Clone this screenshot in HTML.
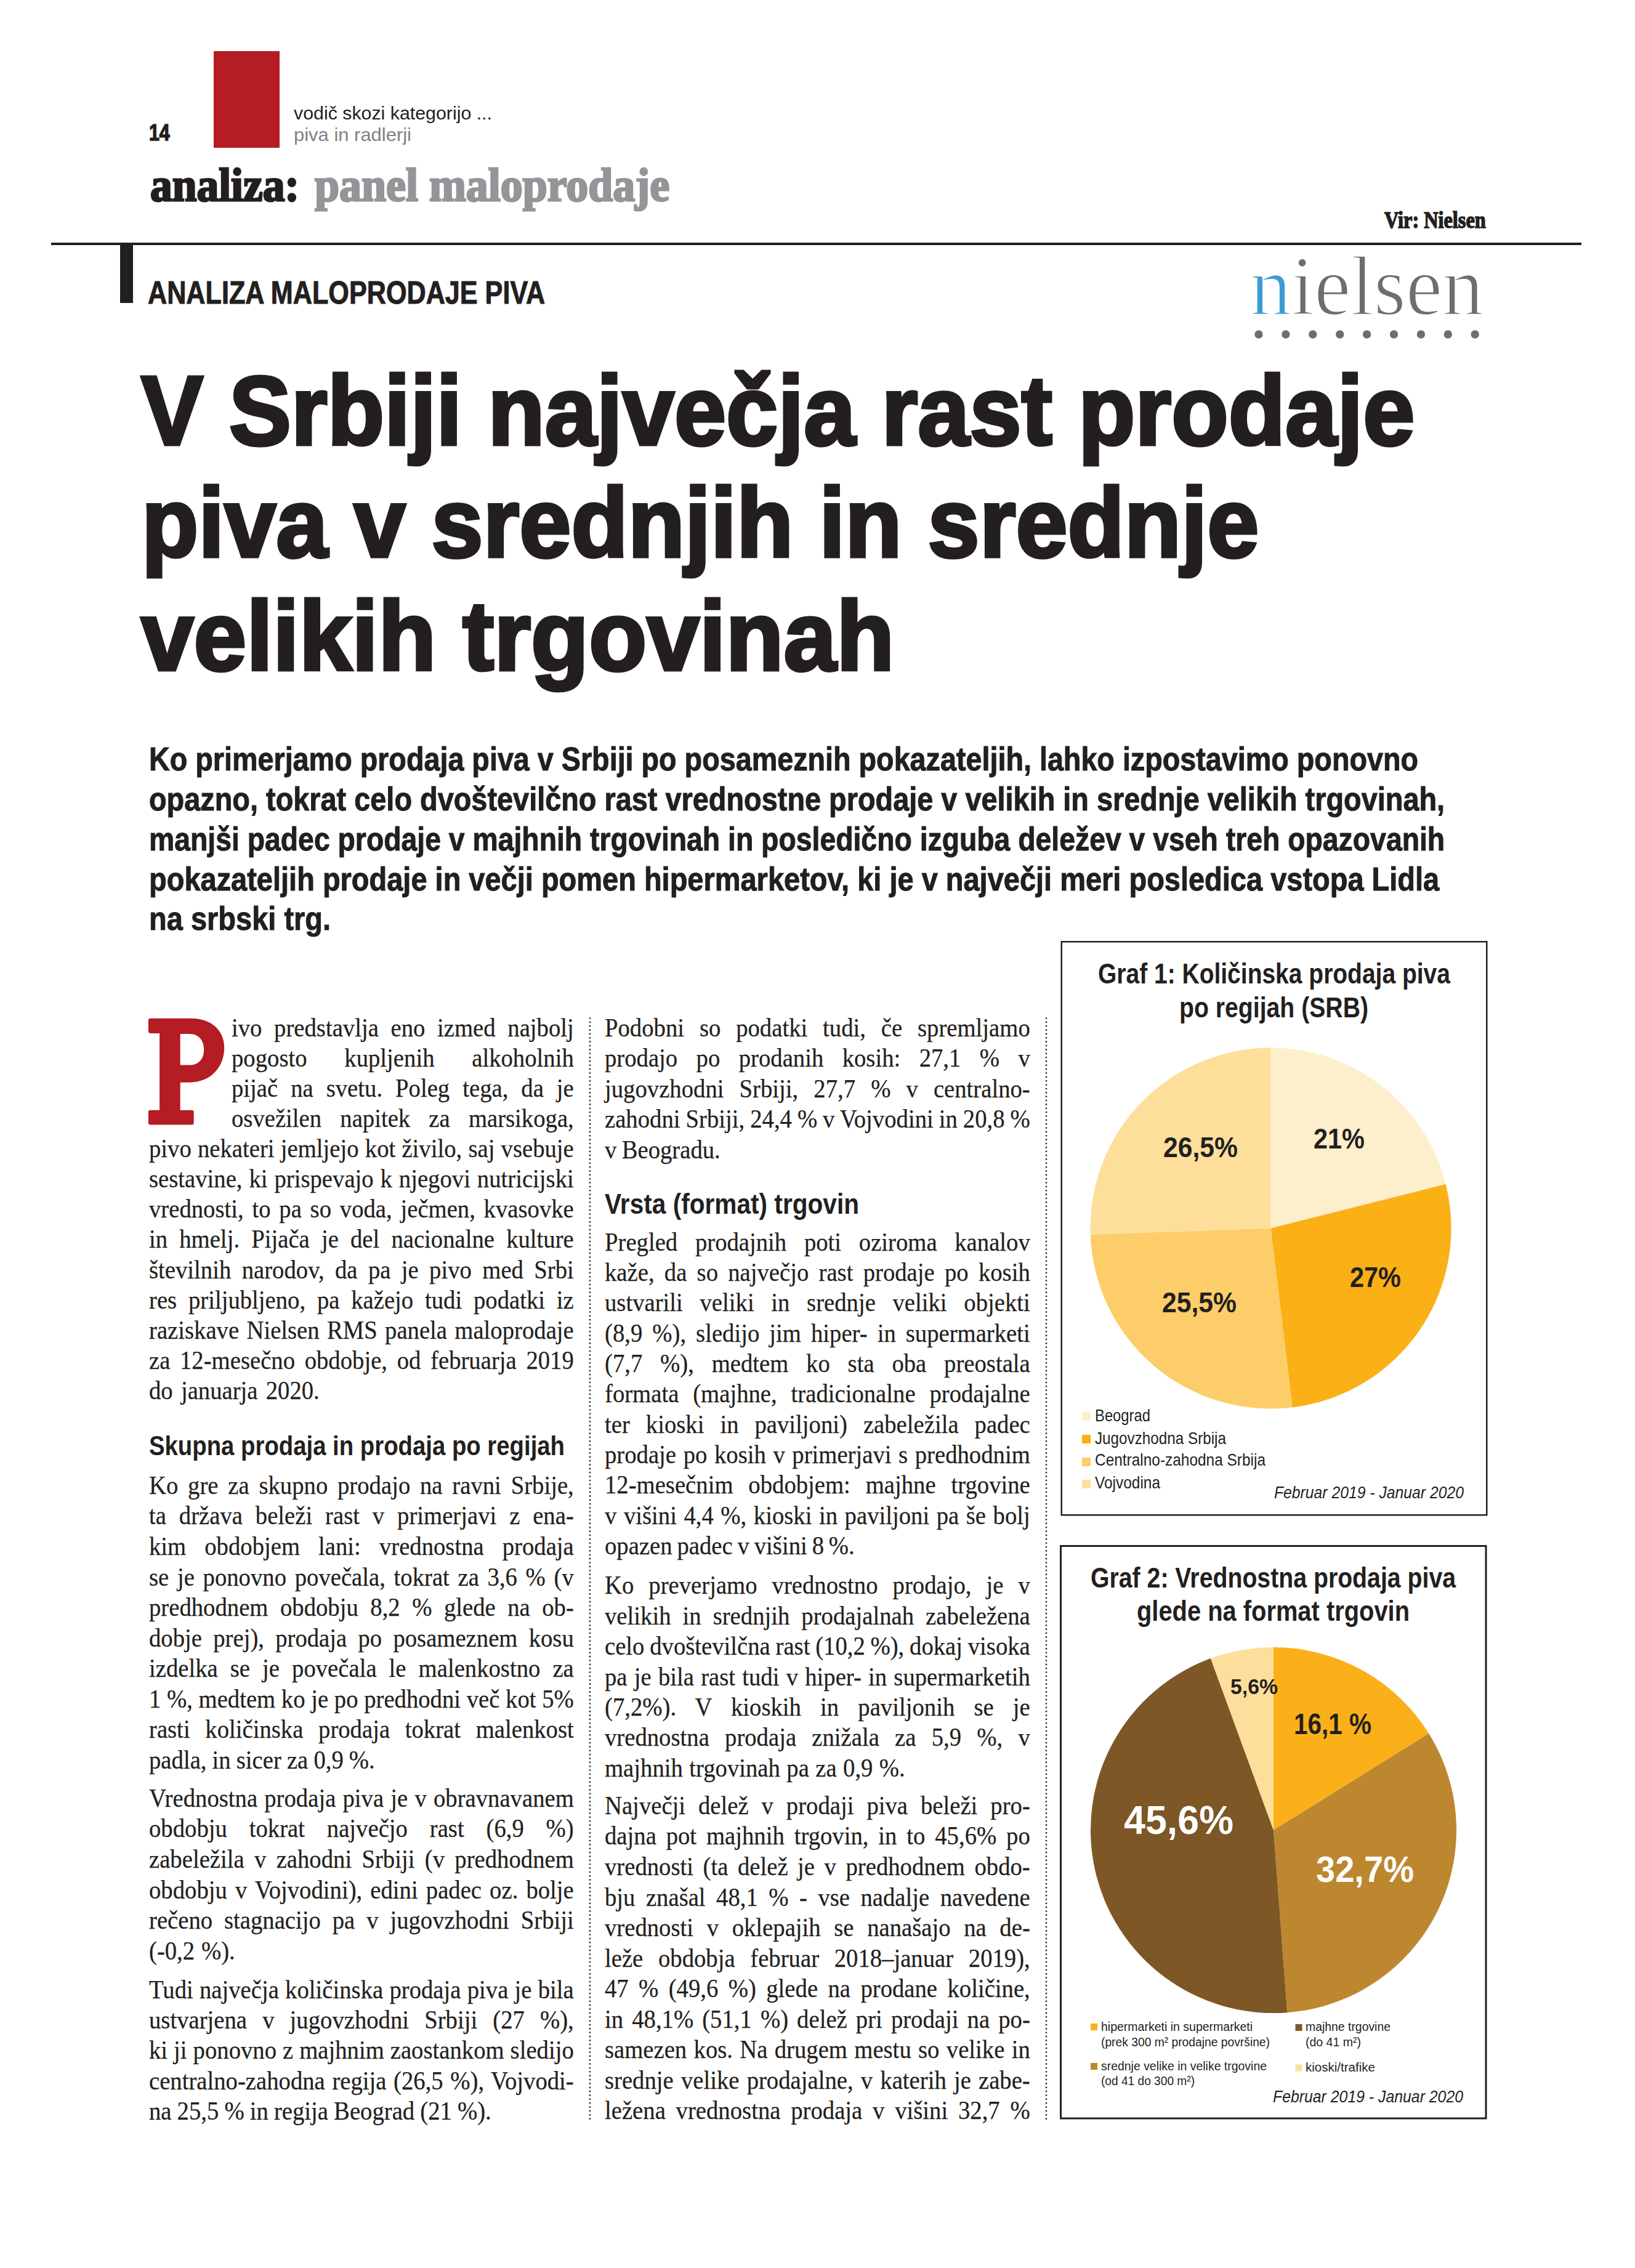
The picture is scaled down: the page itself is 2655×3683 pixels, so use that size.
<!DOCTYPE html>
<html><head><meta charset="utf-8"><style>
html,body{margin:0;padding:0;background:#fff;}
body{width:2655px;height:3683px;position:relative;overflow:hidden;color:#231f20;}
.t{position:absolute;white-space:pre;line-height:0;transform-origin:0 0;}
.r{position:absolute;}
</style></head><body>
<svg class="r" style="left:0;top:0" width="2655" height="3683" viewBox="0 0 2655 3683">
<rect x="347" y="83" width="107" height="157" fill="#b51c24"/>
<rect x="83" y="394" width="2485" height="4" fill="#231f20"/>
<rect x="195" y="396" width="21" height="96" fill="#231f20"/>
<rect x="1723.75" y="1529.25" width="690.5" height="931" fill="none" stroke="#231f20" stroke-width="2.5"/>
<rect x="1722.5" y="2510.5" width="690.5" height="929.5" fill="none" stroke="#231f20" stroke-width="3"/>
<path d="M2063.50 1994.50L2063.50 1701.50A293 293 0 0 1 2347.67 1923.12Z" fill="#fdefcc"/>
<path d="M2063.50 1994.50L2347.67 1923.12A293 293 0 0 1 2098.70 2285.38Z" fill="#fbb016"/>
<path d="M2063.50 1994.50L2098.70 2285.38A293 293 0 0 1 1770.68 2004.73Z" fill="#fdcd69"/>
<path d="M2063.50 1994.50L1770.68 2004.73A293 293 0 0 1 2063.50 1701.50Z" fill="#fddf9b"/>
<path d="M2068.00 2972.00L2068.00 2675.00A297 297 0 0 1 2320.14 2815.05Z" fill="#fbb01a"/>
<path d="M2068.00 2972.00L2320.14 2815.05A297 297 0 0 1 2090.27 3268.16Z" fill="#bd872f"/>
<path d="M2068.00 2972.00L2090.27 3268.16A297 297 0 0 1 1965.93 2693.09Z" fill="#7d5726"/>
<path d="M2068.00 2972.00L1965.93 2693.09A297 297 0 0 1 2068.00 2675.00Z" fill="#fddf9b"/>
<rect x="1757" y="2293" width="14" height="14" fill="#fdefcc"/>
<rect x="1757" y="2330" width="14" height="14" fill="#fbb016"/>
<rect x="1757" y="2367" width="14" height="14" fill="#fdcd69"/>
<rect x="1757" y="2403" width="14" height="14" fill="#fddf9b"/>
<rect x="1771" y="3286" width="11" height="11" fill="#fbb01a"/>
<rect x="2103.5" y="3287" width="11" height="11" fill="#7d5726"/>
<rect x="1771" y="3350" width="11" height="11" fill="#bd872f"/>
<rect x="2103.5" y="3352.5" width="11" height="11" fill="#fddf9b"/>
<circle cx="2044.0" cy="543" r="6.7" fill="#6d6e71"/><circle cx="2087.9" cy="543" r="6.7" fill="#6d6e71"/><circle cx="2131.8" cy="543" r="6.7" fill="#6d6e71"/><circle cx="2175.7" cy="543" r="6.7" fill="#6d6e71"/><circle cx="2219.6" cy="543" r="6.7" fill="#6d6e71"/><circle cx="2263.5" cy="543" r="6.7" fill="#6d6e71"/><circle cx="2307.4" cy="543" r="6.7" fill="#6d6e71"/><circle cx="2351.3" cy="543" r="6.7" fill="#6d6e71"/><circle cx="2395.2" cy="543" r="6.7" fill="#6d6e71"/>
<path fill="#b51c24" fill-rule="evenodd" d="M244.2 1653.7H310.3C342 1653.7 364.2 1672 364.2 1701.6C364.2 1733 342 1757.7 308.1 1757.7H292.7V1802.8H311.4Q314.7 1802.8 314.7 1806.1V1823.2Q314.7 1826.5 311.4 1826.5H244.2Q240.9 1826.5 240.9 1823.2V1806.1Q240.9 1802.8 244.2 1802.8H259.1V1677.9H244.2Q240.9 1677.9 240.9 1674.6V1657Q240.9 1653.7 244.2 1653.7ZM292.7 1679H308C323 1679 331.2 1690 331.2 1704.5C331.2 1719 323 1729.6 308.1 1729.6H292.7Z"/>
<line x1="958" y1="1653.5" x2="958" y2="3442" stroke="#231f20" stroke-width="2.7" stroke-linecap="round" stroke-dasharray="0 6.36"/>
<line x1="1699" y1="1653.5" x2="1699" y2="3442" stroke="#231f20" stroke-width="2.7" stroke-linecap="round" stroke-dasharray="0 6.36"/>
</svg>


<div class="t" style="left:241.6px;top:215.77px;font-family:'Liberation Sans';font-size:36px;font-weight:700;-webkit-text-stroke:1.5px #231f20;transform:scaleX(0.8424);">14</div>
<div class="t" style="left:477.0px;top:184.10px;font-family:'Liberation Sans';font-size:30px;transform:scaleX(1.0110);">vodič skozi kategorijo ...</div>
<div class="t" style="left:477.0px;top:218.60px;font-family:'Liberation Sans';font-size:30px;color:#808285;transform:scaleX(1.0319);">piva in radlerji</div>
<div class="t" style="left:244.4px;top:299.86px;font-family:'Liberation Serif';font-size:76px;font-weight:700;-webkit-text-stroke:3px #231f20;transform:scaleX(0.9403);">analiza:</div>
<div class="t" style="left:511.4px;top:299.86px;font-family:'Liberation Serif';font-size:76px;font-weight:700;color:#939598;-webkit-text-stroke:3px #939598;transform:scaleX(0.9465);">panel maloprodaje</div>
<div class="t" style="left:2247.7px;top:357.77px;font-family:'Liberation Serif';font-size:37px;font-weight:700;-webkit-text-stroke:1.5px #231f20;transform:scaleX(0.8726);">Vir: Nielsen</div>
<div class="t" style="left:240.4px;top:475.47px;font-family:'Liberation Sans';font-size:52px;font-weight:700;-webkit-text-stroke:1px #231f20;transform:scaleX(0.8302);">ANALIZA MALOPRODAJE PIVA</div>
<div class="t" style="left:229.4px;top:667.03px;font-family:'Liberation Sans';font-size:160px;font-weight:700;-webkit-text-stroke:5px #231f20;transform:scaleX(0.9455);">V Srbiji največja rast prodaje</div>
<div class="t" style="left:230.4px;top:849.03px;font-family:'Liberation Sans';font-size:160px;font-weight:700;-webkit-text-stroke:5px #231f20;transform:scaleX(0.9446);">piva v srednjih in srednje</div>
<div class="t" style="left:229.4px;top:1033.03px;font-family:'Liberation Sans';font-size:160px;font-weight:700;-webkit-text-stroke:5px #231f20;transform:scaleX(0.9621);">velikih trgovinah</div>
<div class="t" style="left:242.4px;top:1231.78px;font-family:'Liberation Sans';font-size:54px;font-weight:700;-webkit-text-stroke:1px #231f20;transform:scaleX(0.8651);">Ko primerjamo prodaja piva v Srbiji po posameznih pokazateljih, lahko izpostavimo ponovno</div>
<div class="t" style="left:242.4px;top:1296.78px;font-family:'Liberation Sans';font-size:54px;font-weight:700;-webkit-text-stroke:1px #231f20;transform:scaleX(0.8678);">opazno, tokrat celo dvoštevilčno rast vrednostne prodaje v velikih in srednje velikih trgovinah,</div>
<div class="t" style="left:242.4px;top:1361.78px;font-family:'Liberation Sans';font-size:54px;font-weight:700;-webkit-text-stroke:1px #231f20;transform:scaleX(0.8583);">manjši padec prodaje v majhnih trgovinah in posledično izguba deležev v vseh treh opazovanih</div>
<div class="t" style="left:242.4px;top:1426.78px;font-family:'Liberation Sans';font-size:54px;font-weight:700;-webkit-text-stroke:1px #231f20;transform:scaleX(0.8698);">pokazateljih prodaje in večji pomen hipermarketov, ki je v največji meri posledica vstopa Lidla</div>
<div class="t" style="left:242.4px;top:1491.28px;font-family:'Liberation Sans';font-size:54px;font-weight:700;-webkit-text-stroke:1px #231f20;transform:scaleX(0.8703);">na srbski trg.</div>
<div class="t" style="left:376.1px;top:1668.87px;font-family:'Liberation Serif';font-size:43px;-webkit-text-stroke:0.25px #231f20;word-spacing:11.09px;transform:scaleX(0.9000);">ivo predstavlja eno izmed najbolj</div>
<div class="t" style="left:376.1px;top:1717.95px;font-family:'Liberation Serif';font-size:43px;-webkit-text-stroke:0.25px #231f20;word-spacing:56.74px;transform:scaleX(0.9000);">pogosto kupljenih alkoholnih</div>
<div class="t" style="left:376.1px;top:1767.03px;font-family:'Liberation Serif';font-size:43px;-webkit-text-stroke:0.25px #231f20;word-spacing:12.57px;transform:scaleX(0.9000);">pijač na svetu. Poleg tega, da je</div>
<div class="t" style="left:376.1px;top:1816.11px;font-family:'Liberation Serif';font-size:43px;-webkit-text-stroke:0.25px #231f20;word-spacing:22.76px;transform:scaleX(0.9000);">osvežilen napitek za marsikoga,</div>
<div class="t" style="left:242.1px;top:1865.19px;font-family:'Liberation Serif';font-size:43px;-webkit-text-stroke:0.25px #231f20;word-spacing:0.56px;transform:scaleX(0.9000);">pivo nekateri jemljejo kot živilo, saj vsebuje</div>
<div class="t" style="left:242.1px;top:1914.27px;font-family:'Liberation Serif';font-size:43px;-webkit-text-stroke:0.25px #231f20;word-spacing:1.37px;transform:scaleX(0.9000);">sestavine, ki prispevajo k njegovi nutricijski</div>
<div class="t" style="left:242.1px;top:1963.35px;font-family:'Liberation Serif';font-size:43px;-webkit-text-stroke:0.25px #231f20;word-spacing:4.54px;transform:scaleX(0.9000);">vrednosti, to pa so voda, ječmen, kvasovke</div>
<div class="t" style="left:242.1px;top:2012.43px;font-family:'Liberation Serif';font-size:43px;-webkit-text-stroke:0.25px #231f20;word-spacing:10.52px;transform:scaleX(0.9000);">in hmelj. Pijača je del nacionalne kulture</div>
<div class="t" style="left:242.1px;top:2061.51px;font-family:'Liberation Serif';font-size:43px;-webkit-text-stroke:0.25px #231f20;word-spacing:8.55px;transform:scaleX(0.9000);">številnih narodov, da pa je pivo med Srbi</div>
<div class="t" style="left:242.1px;top:2110.59px;font-family:'Liberation Serif';font-size:43px;-webkit-text-stroke:0.25px #231f20;word-spacing:10.11px;transform:scaleX(0.9000);">res priljubljeno, pa kažejo tudi podatki iz</div>
<div class="t" style="left:242.1px;top:2159.67px;font-family:'Liberation Serif';font-size:43px;-webkit-text-stroke:0.25px #231f20;word-spacing:2.94px;transform:scaleX(0.9000);">raziskave Nielsen RMS panela maloprodaje</div>
<div class="t" style="left:242.1px;top:2208.75px;font-family:'Liberation Serif';font-size:43px;-webkit-text-stroke:0.25px #231f20;word-spacing:6.66px;transform:scaleX(0.9000);">za 12-mesečno obdobje, od februarja 2019</div>
<div class="t" style="left:242.1px;top:2257.83px;font-family:'Liberation Serif';font-size:43px;-webkit-text-stroke:0.25px #231f20;word-spacing:3.90px;transform:scaleX(0.9000);">do januarja 2020.</div>
<div class="t" style="left:242.1px;top:2411.87px;font-family:'Liberation Serif';font-size:43px;-webkit-text-stroke:0.25px #231f20;word-spacing:6.79px;transform:scaleX(0.9000);">Ko gre za skupno prodajo na ravni Srbije,</div>
<div class="t" style="left:242.1px;top:2461.42px;font-family:'Liberation Serif';font-size:43px;-webkit-text-stroke:0.25px #231f20;word-spacing:12.45px;transform:scaleX(0.9000);">ta država beleži rast v primerjavi z ena-</div>
<div class="t" style="left:242.1px;top:2510.97px;font-family:'Liberation Serif';font-size:43px;-webkit-text-stroke:0.25px #231f20;word-spacing:22.63px;transform:scaleX(0.9000);">kim obdobjem lani: vrednostna prodaja</div>
<div class="t" style="left:242.1px;top:2560.52px;font-family:'Liberation Serif';font-size:43px;-webkit-text-stroke:0.25px #231f20;word-spacing:4.46px;transform:scaleX(0.9000);">se je ponovno povečala, tokrat za 3,6 % (v</div>
<div class="t" style="left:242.1px;top:2610.07px;font-family:'Liberation Serif';font-size:43px;-webkit-text-stroke:0.25px #231f20;word-spacing:10.91px;transform:scaleX(0.9000);">predhodnem obdobju 8,2 % glede na ob-</div>
<div class="t" style="left:242.1px;top:2659.62px;font-family:'Liberation Serif';font-size:43px;-webkit-text-stroke:0.25px #231f20;word-spacing:9.51px;transform:scaleX(0.9000);">dobje prej), prodaja po posameznem kosu</div>
<div class="t" style="left:242.1px;top:2709.17px;font-family:'Liberation Serif';font-size:43px;-webkit-text-stroke:0.25px #231f20;word-spacing:11.53px;transform:scaleX(0.9000);">izdelka se je povečala le malenkostno za</div>
<div class="t" style="left:242.1px;top:2758.72px;font-family:'Liberation Serif';font-size:43px;-webkit-text-stroke:0.25px #231f20;word-spacing:-0.03px;transform:scaleX(0.9000);">1 %, medtem ko je po predhodni več kot 5%</div>
<div class="t" style="left:242.1px;top:2808.27px;font-family:'Liberation Serif';font-size:43px;-webkit-text-stroke:0.25px #231f20;word-spacing:16.66px;transform:scaleX(0.9000);">rasti količinska prodaja tokrat malenkost</div>
<div class="t" style="left:242.1px;top:2857.82px;font-family:'Liberation Serif';font-size:43px;-webkit-text-stroke:0.25px #231f20;word-spacing:-0.64px;transform:scaleX(0.9000);">padla, in sicer za 0,9 %.</div>
<div class="t" style="left:242.1px;top:2919.87px;font-family:'Liberation Serif';font-size:43px;-webkit-text-stroke:0.25px #231f20;word-spacing:1.68px;transform:scaleX(0.9000);">Vrednostna prodaja piva je v obravnavanem</div>
<div class="t" style="left:242.1px;top:2969.47px;font-family:'Liberation Serif';font-size:43px;-webkit-text-stroke:0.25px #231f20;word-spacing:29.09px;transform:scaleX(0.9000);">obdobju tokrat največjo rast (6,9 %)</div>
<div class="t" style="left:242.1px;top:3019.07px;font-family:'Liberation Serif';font-size:43px;-webkit-text-stroke:0.25px #231f20;word-spacing:7.37px;transform:scaleX(0.9000);">zabeležila v zahodni Srbiji (v predhodnem</div>
<div class="t" style="left:242.1px;top:3068.67px;font-family:'Liberation Serif';font-size:43px;-webkit-text-stroke:0.25px #231f20;word-spacing:3.80px;transform:scaleX(0.9000);">obdobju v Vojvodini), edini padec oz. bolje</div>
<div class="t" style="left:242.1px;top:3118.27px;font-family:'Liberation Serif';font-size:43px;-webkit-text-stroke:0.25px #231f20;word-spacing:10.22px;transform:scaleX(0.9000);">rečeno stagnacijo pa v jugovzhodni Srbiji</div>
<div class="t" style="left:242.1px;top:3167.87px;font-family:'Liberation Serif';font-size:43px;-webkit-text-stroke:0.25px #231f20;word-spacing:1.27px;transform:scaleX(0.9000);">(-0,2 %).</div>
<div class="t" style="left:242.1px;top:3230.87px;font-family:'Liberation Serif';font-size:43px;-webkit-text-stroke:0.25px #231f20;word-spacing:0.62px;transform:scaleX(0.9000);">Tudi največja količinska prodaja piva je bila</div>
<div class="t" style="left:242.1px;top:3280.12px;font-family:'Liberation Serif';font-size:43px;-webkit-text-stroke:0.25px #231f20;word-spacing:17.14px;transform:scaleX(0.9000);">ustvarjena v jugovzhodni Srbiji (27 %),</div>
<div class="t" style="left:242.1px;top:3329.37px;font-family:'Liberation Serif';font-size:43px;-webkit-text-stroke:0.25px #231f20;word-spacing:0.35px;transform:scaleX(0.9000);">ki ji ponovno z majhnim zaostankom sledijo</div>
<div class="t" style="left:242.1px;top:3378.62px;font-family:'Liberation Serif';font-size:43px;-webkit-text-stroke:0.25px #231f20;word-spacing:2.14px;transform:scaleX(0.9000);">centralno-zahodna regija (26,5 %), Vojvodi-</div>
<div class="t" style="left:242.1px;top:3427.87px;font-family:'Liberation Serif';font-size:43px;-webkit-text-stroke:0.25px #231f20;word-spacing:-0.66px;transform:scaleX(0.9000);">na 25,5 % in regija Beograd (21 %).</div>
<div class="t" style="left:982.1px;top:1668.87px;font-family:'Liberation Serif';font-size:43px;-webkit-text-stroke:0.25px #231f20;word-spacing:16.87px;transform:scaleX(0.9000);">Podobni so podatki tudi, če spremljamo</div>
<div class="t" style="left:982.1px;top:1718.37px;font-family:'Liberation Serif';font-size:43px;-webkit-text-stroke:0.25px #231f20;word-spacing:23.02px;transform:scaleX(0.9000);">prodajo po prodanih kosih: 27,1 % v</div>
<div class="t" style="left:982.1px;top:1767.87px;font-family:'Liberation Serif';font-size:43px;-webkit-text-stroke:0.25px #231f20;word-spacing:17.12px;transform:scaleX(0.9000);">jugovzhodni Srbiji, 27,7 % v centralno-</div>
<div class="t" style="left:982.1px;top:1817.37px;font-family:'Liberation Serif';font-size:43px;-webkit-text-stroke:0.25px #231f20;word-spacing:-0.76px;transform:scaleX(0.9000);">zahodni Srbiji, 24,4 % v Vojvodini in 20,8 %</div>
<div class="t" style="left:982.1px;top:1866.87px;font-family:'Liberation Serif';font-size:43px;-webkit-text-stroke:0.25px #231f20;word-spacing:-1.53px;transform:scaleX(0.9000);">v Beogradu.</div>
<div class="t" style="left:982.1px;top:2016.87px;font-family:'Liberation Serif';font-size:43px;-webkit-text-stroke:0.25px #231f20;word-spacing:21.12px;transform:scaleX(0.9000);">Pregled prodajnih poti oziroma kanalov</div>
<div class="t" style="left:982.1px;top:2066.17px;font-family:'Liberation Serif';font-size:43px;-webkit-text-stroke:0.25px #231f20;word-spacing:7.30px;transform:scaleX(0.9000);">kaže, da so največjo rast prodaje po kosih</div>
<div class="t" style="left:982.1px;top:2115.47px;font-family:'Liberation Serif';font-size:43px;-webkit-text-stroke:0.25px #231f20;word-spacing:19.99px;transform:scaleX(0.9000);">ustvarili veliki in srednje veliki objekti</div>
<div class="t" style="left:982.1px;top:2164.77px;font-family:'Liberation Serif';font-size:43px;-webkit-text-stroke:0.25px #231f20;word-spacing:7.06px;transform:scaleX(0.9000);">(8,9 %), sledijo jim hiper- in supermarketi</div>
<div class="t" style="left:982.1px;top:2214.07px;font-family:'Liberation Serif';font-size:43px;-webkit-text-stroke:0.25px #231f20;word-spacing:21.25px;transform:scaleX(0.9000);">(7,7 %), medtem ko sta oba preostala</div>
<div class="t" style="left:982.1px;top:2263.37px;font-family:'Liberation Serif';font-size:43px;-webkit-text-stroke:0.25px #231f20;word-spacing:14.67px;transform:scaleX(0.9000);">formata (majhne, tradicionalne prodajalne</div>
<div class="t" style="left:982.1px;top:2312.67px;font-family:'Liberation Serif';font-size:43px;-webkit-text-stroke:0.25px #231f20;word-spacing:18.11px;transform:scaleX(0.9000);">ter kioski in paviljoni) zabeležila padec</div>
<div class="t" style="left:982.1px;top:2361.97px;font-family:'Liberation Serif';font-size:43px;-webkit-text-stroke:0.25px #231f20;word-spacing:2.13px;transform:scaleX(0.9000);">prodaje po kosih v primerjavi s predhodnim</div>
<div class="t" style="left:982.1px;top:2411.27px;font-family:'Liberation Serif';font-size:43px;-webkit-text-stroke:0.25px #231f20;word-spacing:16.87px;transform:scaleX(0.9000);">12-mesečnim obdobjem: majhne trgovine</div>
<div class="t" style="left:982.1px;top:2460.57px;font-family:'Liberation Serif';font-size:43px;-webkit-text-stroke:0.25px #231f20;word-spacing:2.07px;transform:scaleX(0.9000);">v višini 4,4 %, kioski in paviljoni pa še bolj</div>
<div class="t" style="left:982.1px;top:2509.87px;font-family:'Liberation Serif';font-size:43px;-webkit-text-stroke:0.25px #231f20;word-spacing:-2.01px;transform:scaleX(0.9000);">opazen padec v višini 8 %.</div>
<div class="t" style="left:982.1px;top:2574.37px;font-family:'Liberation Serif';font-size:43px;-webkit-text-stroke:0.25px #231f20;word-spacing:15.94px;transform:scaleX(0.9000);">Ko preverjamo vrednostno prodajo, je v</div>
<div class="t" style="left:982.1px;top:2623.77px;font-family:'Liberation Serif';font-size:43px;-webkit-text-stroke:0.25px #231f20;word-spacing:10.40px;transform:scaleX(0.9000);">velikih in srednjih prodajalnah zabeležena</div>
<div class="t" style="left:982.1px;top:2673.17px;font-family:'Liberation Serif';font-size:43px;-webkit-text-stroke:0.25px #231f20;word-spacing:-1.04px;transform:scaleX(0.9000);">celo dvoštevilčna rast (10,2 %), dokaj visoka</div>
<div class="t" style="left:982.1px;top:2722.57px;font-family:'Liberation Serif';font-size:43px;-webkit-text-stroke:0.25px #231f20;word-spacing:1.71px;transform:scaleX(0.9000);">pa je bila rast tudi v hiper- in supermarketih</div>
<div class="t" style="left:982.1px;top:2771.97px;font-family:'Liberation Serif';font-size:43px;-webkit-text-stroke:0.25px #231f20;word-spacing:23.88px;transform:scaleX(0.9000);">(7,2%). V kioskih in paviljonih se je</div>
<div class="t" style="left:982.1px;top:2821.37px;font-family:'Liberation Serif';font-size:43px;-webkit-text-stroke:0.25px #231f20;word-spacing:17.28px;transform:scaleX(0.9000);">vrednostna prodaja znižala za 5,9 %, v</div>
<div class="t" style="left:982.1px;top:2870.77px;font-family:'Liberation Serif';font-size:43px;-webkit-text-stroke:0.25px #231f20;word-spacing:0.84px;transform:scaleX(0.9000);">majhnih trgovinah pa za 0,9 %.</div>
<div class="t" style="left:982.1px;top:2931.87px;font-family:'Liberation Serif';font-size:43px;-webkit-text-stroke:0.25px #231f20;word-spacing:12.51px;transform:scaleX(0.9000);">Največji delež v prodaji piva beleži pro-</div>
<div class="t" style="left:982.1px;top:2981.42px;font-family:'Liberation Serif';font-size:43px;-webkit-text-stroke:0.25px #231f20;word-spacing:6.88px;transform:scaleX(0.9000);">dajna pot majhnih trgovin, in to 45,6% po</div>
<div class="t" style="left:982.1px;top:3030.97px;font-family:'Liberation Serif';font-size:43px;-webkit-text-stroke:0.25px #231f20;word-spacing:6.52px;transform:scaleX(0.9000);">vrednosti (ta delež je v predhodnem obdo-</div>
<div class="t" style="left:982.1px;top:3080.52px;font-family:'Liberation Serif';font-size:43px;-webkit-text-stroke:0.25px #231f20;word-spacing:8.67px;transform:scaleX(0.9000);">bju znašal 48,1 % - vse nadalje navedene</div>
<div class="t" style="left:982.1px;top:3130.07px;font-family:'Liberation Serif';font-size:43px;-webkit-text-stroke:0.25px #231f20;word-spacing:13.29px;transform:scaleX(0.9000);">vrednosti v oklepajih se nanašajo na de-</div>
<div class="t" style="left:982.1px;top:3179.62px;font-family:'Liberation Serif';font-size:43px;-webkit-text-stroke:0.25px #231f20;word-spacing:16.66px;transform:scaleX(0.9000);">leže obdobja februar 2018–januar 2019),</div>
<div class="t" style="left:982.1px;top:3229.17px;font-family:'Liberation Serif';font-size:43px;-webkit-text-stroke:0.25px #231f20;word-spacing:7.47px;transform:scaleX(0.9000);">47 % (49,6 %) glede na prodane količine,</div>
<div class="t" style="left:982.1px;top:3278.72px;font-family:'Liberation Serif';font-size:43px;-webkit-text-stroke:0.25px #231f20;word-spacing:4.89px;transform:scaleX(0.9000);">in 48,1% (51,1 %) delež pri prodaji na po-</div>
<div class="t" style="left:982.1px;top:3328.27px;font-family:'Liberation Serif';font-size:43px;-webkit-text-stroke:0.25px #231f20;word-spacing:1.83px;transform:scaleX(0.9000);">samezen kos. Na drugem mestu so velike in</div>
<div class="t" style="left:982.1px;top:3377.82px;font-family:'Liberation Serif';font-size:43px;-webkit-text-stroke:0.25px #231f20;word-spacing:2.76px;transform:scaleX(0.9000);">srednje velike prodajalne, v katerih je zabe-</div>
<div class="t" style="left:982.1px;top:3427.37px;font-family:'Liberation Serif';font-size:43px;-webkit-text-stroke:0.25px #231f20;word-spacing:7.91px;transform:scaleX(0.9000);">ležena vrednostna prodaja v višini 32,7 %</div>
<div class="t" style="left:242.0px;top:2347.90px;font-family:'Liberation Sans';font-size:45px;font-weight:700;transform:scaleX(0.8516);">Skupna prodaja in prodaja po regijah</div>
<div class="t" style="left:982.0px;top:1955.05px;font-family:'Liberation Sans';font-size:46px;font-weight:700;transform:scaleX(0.8830);">Vrsta (format) trgovin</div>
<div class="t" style="left:1783.0px;top:1581.25px;font-family:'Liberation Sans';font-size:46px;font-weight:700;transform:scaleX(0.8475);">Graf 1: Količinska prodaja piva</div>
<div class="t" style="left:1915.0px;top:1636.25px;font-family:'Liberation Sans';font-size:46px;font-weight:700;transform:scaleX(0.8520);">po regijah (SRB)</div>
<div class="t" style="left:2133.0px;top:1850.43px;font-family:'Liberation Sans';font-size:45.5px;font-weight:700;transform:scaleX(0.9113);">21%</div>
<div class="t" style="left:1889.0px;top:1864.23px;font-family:'Liberation Sans';font-size:45.5px;font-weight:700;transform:scaleX(0.9379);">26,5%</div>
<div class="t" style="left:2192.0px;top:2075.23px;font-family:'Liberation Sans';font-size:45.5px;font-weight:700;transform:scaleX(0.9113);">27%</div>
<div class="t" style="left:1887.0px;top:2116.23px;font-family:'Liberation Sans';font-size:45.5px;font-weight:700;transform:scaleX(0.9379);">25,5%</div>
<div class="t" style="left:1778.0px;top:2299.29px;font-family:'Liberation Sans';font-size:28px;transform:scaleX(0.8501);">Beograd</div>
<div class="t" style="left:1778.0px;top:2336.29px;font-family:'Liberation Sans';font-size:28px;transform:scaleX(0.8660);">Jugovzhodna Srbija</div>
<div class="t" style="left:1778.0px;top:2371.29px;font-family:'Liberation Sans';font-size:28px;transform:scaleX(0.8724);">Centralno-zahodna Srbija</div>
<div class="t" style="left:1778.0px;top:2408.29px;font-family:'Liberation Sans';font-size:28px;transform:scaleX(0.8729);">Vojvodina</div>
<div class="t" style="left:2069.0px;top:2424.29px;font-family:'Liberation Sans';font-size:28px;font-style:italic;transform:scaleX(0.8833);">Februar 2019 - Januar 2020</div>
<div class="t" style="left:1771.0px;top:2562.25px;font-family:'Liberation Sans';font-size:46px;font-weight:700;transform:scaleX(0.8529);">Graf 2: Vrednostna prodaja piva</div>
<div class="t" style="left:1846.0px;top:2616.25px;font-family:'Liberation Sans';font-size:46px;font-weight:700;transform:scaleX(0.8666);">glede na format trgovin</div>
<div class="t" style="left:1998.0px;top:2739.19px;font-family:'Liberation Sans';font-size:35.5px;font-weight:700;transform:scaleX(0.9515);">5,6%</div>
<div class="t" style="left:2101.0px;top:2798.79px;font-family:'Liberation Sans';font-size:48.5px;font-weight:700;transform:scaleX(0.8344);">16,1 %</div>
<div class="t" style="left:1825.0px;top:2955.81px;font-family:'Liberation Sans';font-size:64px;font-weight:700;color:#ffffff;transform:scaleX(0.9809);">45,6%</div>
<div class="t" style="left:2137.0px;top:3036.04px;font-family:'Liberation Sans';font-size:59px;font-weight:700;color:#ffffff;transform:scaleX(0.9504);">32,7%</div>
<div class="t" style="left:1788.0px;top:3291.07px;font-family:'Liberation Sans';font-size:20px;transform:scaleX(0.9749);">hipermarketi in supermarketi</div>
<div class="t" style="left:1788.0px;top:3315.67px;font-family:'Liberation Sans';font-size:20px;transform:scaleX(0.9628);">(prek 300 m² prodajne površine)</div>
<div class="t" style="left:2120.0px;top:3291.07px;font-family:'Liberation Sans';font-size:20px;transform:scaleX(0.9697);">majhne trgovine</div>
<div class="t" style="left:2120.0px;top:3315.67px;font-family:'Liberation Sans';font-size:20px;transform:scaleX(0.9756);">(do 41 m²)</div>
<div class="t" style="left:1788.0px;top:3354.77px;font-family:'Liberation Sans';font-size:20px;transform:scaleX(0.9718);">srednje velike in velike trgovine</div>
<div class="t" style="left:1788.0px;top:3379.07px;font-family:'Liberation Sans';font-size:20px;transform:scaleX(0.9561);">(od 41 do 300 m²)</div>
<div class="t" style="left:2120.0px;top:3357.07px;font-family:'Liberation Sans';font-size:20px;transform:scaleX(1.0270);">kioski/trafike</div>
<div class="t" style="left:2067.0px;top:3405.29px;font-family:'Liberation Sans';font-size:28px;font-style:italic;transform:scaleX(0.8862);">Februar 2019 - Januar 2020</div>
<div class="t" style="left:2030px;top:465.4px;font-family:'Liberation Serif';font-size:138px;color:#6d6e71;-webkit-text-stroke:2.5px #fff;transform:scaleX(0.97)"><span style="color:#3b9dd2">n</span>ielsen</div>
</body></html>
